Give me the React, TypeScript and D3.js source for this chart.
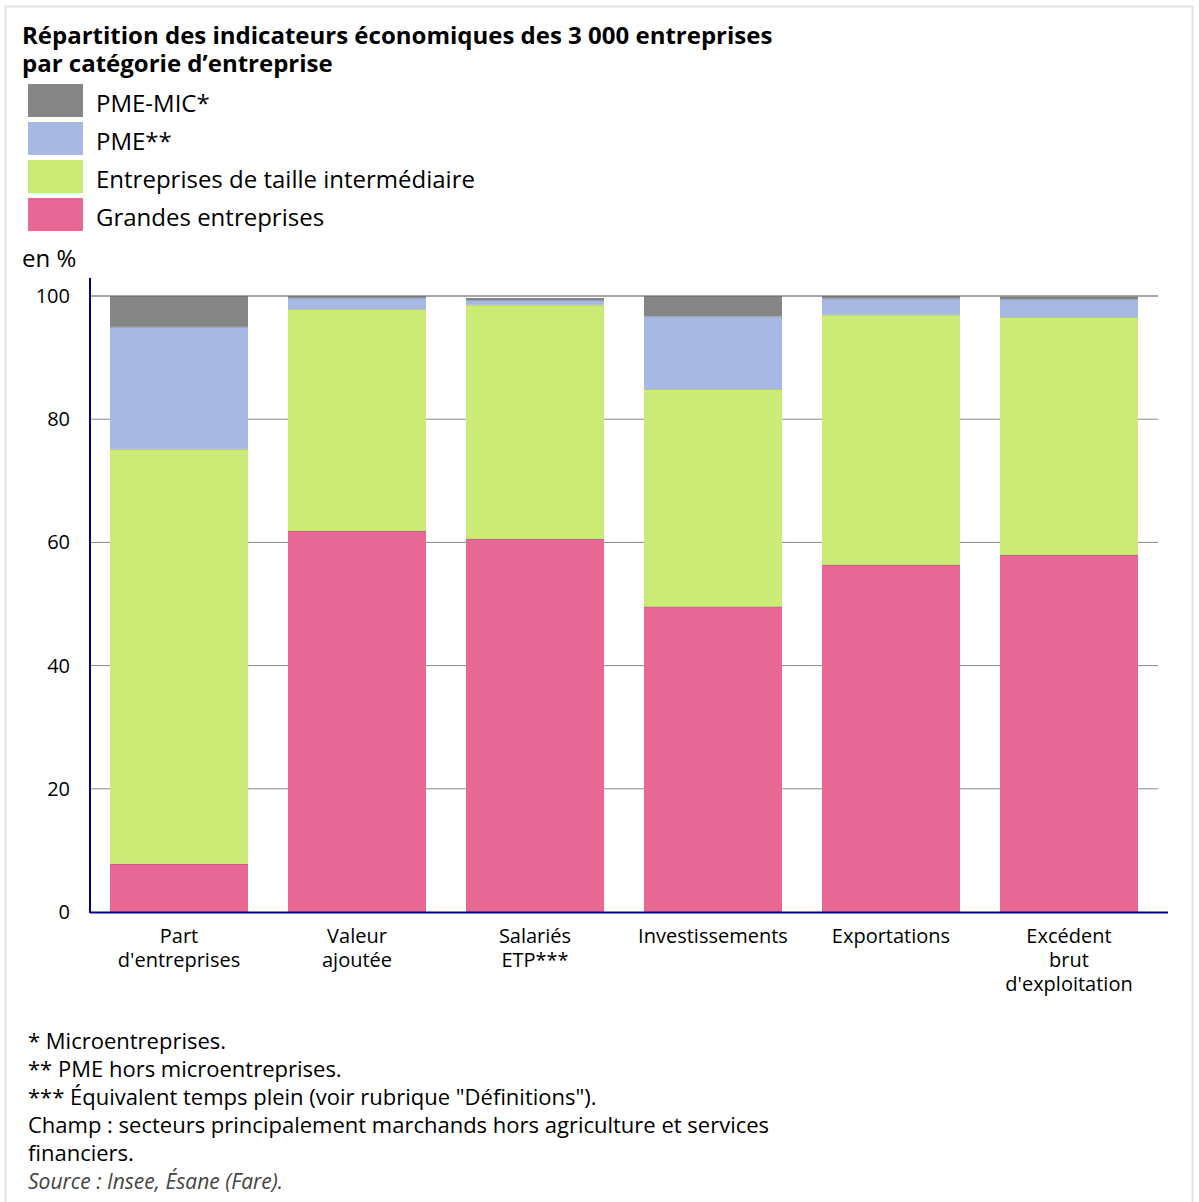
import React from "react";
import * as d3 from "d3";

const categories = ["Part\nd'entreprises", "Valeur\najoutée", "Salariés\nETP***", "Investissements", "Exportations", "Excédent\nbrut\nd'exploitation"];
const seriesNames = ["Grandes entreprises", "Entreprises de taille intermédiaire", "PME**", "PME-MIC*"];
const grandes = [7.8, 61.9, 60.6, 49.6, 56.4, 58.0];
const eti = [67.4, 36.0, 38.0, 35.3, 40.6, 38.6];
const pme = [19.8, 1.8, 0.75, 11.8, 2.6, 2.9];
const mic = [5.0, 0.3, 0.3, 3.3, 0.4, 0.4];
const colors = ["#e76894", "#cbea76", "#a7b8e3", "#868686"];
const yTicks = [0, 20, 40, 60, 80, 100];
const legendOrder = [3, 2, 1, 0];
const titleLines = ["Répartition des indicateurs économiques des 3 000 entreprises", "par catégorie d’entreprise"];
const notes = [
  "* Microentreprises.",
  "** PME hors microentreprises.",
  "*** Équivalent temps plein (voir rubrique \"Définitions\").",
  "Champ : secteurs principalement marchands hors agriculture et services",
  "financiers.",
];
const source = "Source : Insee, Ésane (Fare).";

const W = 1199;
const H = 1202;
const FONT = "'Open Sans', sans-serif";

export default function App() {
  const values = [grandes, eti, pme, mic];
  const rows = categories.map((c, i) => {
    const r: any = { cat: c };
    seriesNames.forEach((s, k) => (r[s] = values[k][i]));
    return r;
  });
  const stack = d3.stack<any>().keys(seriesNames)(rows);

  const plotLeft = 90, plotRight = 1158, plotTop = 296, plotBottom = 912;
  const x = d3.scaleBand<string>().domain(categories).range([plotLeft, plotRight]).paddingInner(0.2247).paddingOuter(0.1124);
  const y = d3.scaleLinear().domain([0, 100]).range([plotBottom, plotTop]);

  return (
    <div style={{ position: "absolute", left: 0, top: 0 }}>
      <svg width={W} height={H} style={{ display: "block", fontFamily: FONT }}>
        <rect x={0} y={0} width={W} height={H} fill="#fff" />
        <rect x={5.5} y={6.5} width={1187} height={1210} fill="none" stroke="#e3e3e3" strokeWidth={2} />
        {titleLines.map((t, i) => (
          <text key={i} x={22} y={44 + i * 28} fontSize={24} fontWeight={700} fill="#000">{t}</text>
        ))}
        {legendOrder.map((k, i) => (
          <g key={k}>
            <rect x={28} y={84 + i * 38} width={55} height={33} fill={colors[k]} />
            <text x={96} y={112 + i * 38} fontSize={24} fill="#000">{seriesNames[k]}</text>
          </g>
        ))}
        <text x={22} y={267} fontSize={24} fill="#000">en %</text>

        {yTicks.map((t) => (
          <g key={t}>
            {t > 0 && <line x1={plotLeft} x2={plotRight} y1={y(t)} y2={y(t)} stroke="#888" strokeWidth={t === 100 ? 1.5 : 1} />}
            <text x={70} y={y(t) + 7} fontSize={20} textAnchor="end" fill="#000">{t}</text>
          </g>
        ))}

        {stack.map((layer, k) => (
          <g key={k} fill={colors[k]}>
            {layer.map((d, i) => (
              <rect key={i} x={x(categories[i])} y={y(d[1])} width={x.bandwidth()} height={y(d[0]) - y(d[1])} />
            ))}
          </g>
        ))}
        {stack.map((layer, k) => (
          <g key={"s" + k}>
            {layer.map((d, i) => (
              <line key={i} x1={x(categories[i])} x2={(x(categories[i]) as number) + x.bandwidth()} y1={y(d[1]) + 0.5} y2={y(d[1]) + 0.5} stroke="#000" strokeOpacity={0.12} strokeWidth={1} />
            ))}
          </g>
        ))}

        <line x1={plotLeft} x2={plotLeft} y1={278} y2={plotBottom + 1} stroke="#000080" strokeWidth={2} />
        <line x1={plotLeft} x2={1168} y1={plotBottom + 0.5} y2={plotBottom + 0.5} stroke="#000080" strokeWidth={2} />

        {categories.map((c) => (
          <text key={c} x={(x(c) as number) + x.bandwidth() / 2} textAnchor="middle" fontSize={20} fill="#000">
            {c.split("\n").map((l, j) => (
              <tspan key={j} x={(x(c) as number) + x.bandwidth() / 2} y={943 + j * 24}>{l}</tspan>
            ))}
          </text>
        ))}

        {notes.map((n, i) => (
          <text key={i} x={28} y={1049 + i * 28} fontSize={22} fill="#000">{n}</text>
        ))}
        <text x={28} y={1049 + notes.length * 28} fontSize={21} fontStyle="italic" fill="#444">{source}</text>
      </svg>
    </div>
  );
}
